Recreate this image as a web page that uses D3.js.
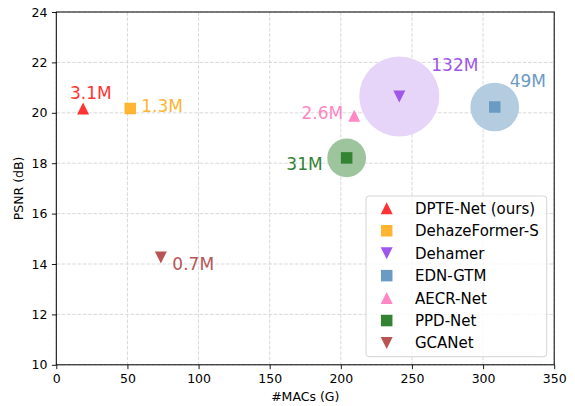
<!DOCTYPE html>
<html>
<head>
<meta charset="utf-8">
<script src="https://cdn.jsdelivr.net/npm/d3@7"></script>
<style>
  html, body { margin: 0; padding: 0; background: #fff; }
  svg { display: block; font-family: "DejaVu Sans", sans-serif; }
</style>
</head>
<body>
<svg id="chart" width="575" height="406"></svg>
<script>
// Dehazing models: compute cost vs. quality, bubble area = parameter count
const models = ["DPTE-Net (ours)", "DehazeFormer-S", "Dehamer", "EDN-GTM", "AECR-Net", "PPD-Net", "GCANet"];
const macs   = [18.8, 52.0, 241.1, 308.2, 209.4, 204.1, 73.5];     // #MACs (G)
const psnr   = [20.17, 20.17, 20.65, 20.23, 19.88, 18.21, 14.26]; // PSNR (dB)
const params = [3.1, 1.3, 132, 49, 2.6, 31, 0.7];                 // parameters (M)

const xTicks = [0, 50, 100, 150, 200, 250, 300, 350];
const yTicks = [10, 12, 14, 16, 18, 20, 22, 24];

// Styling per model
const shapes      = ["up", "square", "down", "square", "up", "square", "down"];
const colors      = ["#ff3333", "#ffb531", "#a056e8", "#6b9bc3", "#ff87c3", "#338333", "#b75555"];
const bubbleFills = ["#ff3333", "#ffb531", "#e6d5f8", "#b4cce0", "#ff87c3", "#9dc49d", "#b75555"];
// label offsets from the marker centre: [dx, dy, anchor]
const labelPos = [[-13, -10, "start"], [11, 3, "start"], [32, -25, "start"], [15, -20, "start"],
                  [-11, 3, "end"], [-24, 12.5, "end"], [11.5, 12.5, "start"]];

const svg = d3.select("#chart");
const m = { left: 56.3, right: 554.2, top: 12, bottom: 364.8 };

const x = d3.scaleLinear().domain([0, 350]).range([m.left, m.right]);
const y = d3.scaleLinear().domain([10, 24]).range([m.bottom, m.top]);
const r = d3.scaleSqrt().domain([0, 132]).range([0, 40]);

// grid
const grid = svg.append("g");
grid.selectAll(".gx").data(xTicks).join("line")
  .attr("x1", d => x(d)).attr("x2", d => x(d))
  .attr("y1", m.top).attr("y2", m.bottom)
  .attr("stroke", "#cfcfcf").attr("stroke-width", 0.8).attr("stroke-dasharray", "3.7,1.6");
grid.selectAll(".gy").data(yTicks).join("line")
  .attr("y1", d => y(d)).attr("y2", d => y(d))
  .attr("x1", m.left).attr("x2", m.right)
  .attr("stroke", "#cfcfcf").attr("stroke-width", 0.8).attr("stroke-dasharray", "3.7,1.6");

const idx = d3.range(models.length);

// parameter bubbles (tiny ones are hidden under their markers)
svg.append("g").selectAll("circle")
  .data(idx.filter(i => params[i] >= 10)).join("circle")
  .attr("cx", i => x(macs[i])).attr("cy", i => y(psnr[i]))
  .attr("r", i => r(params[i]))
  .attr("fill", i => bubbleFills[i]);

function markerPath(shape, s) {
  const h = s / 2;
  if (shape === "up")   return `M0,${-h}L${h},${h}L${-h},${h}Z`;
  if (shape === "down") return `M0,${h}L${h},${-h}L${-h},${-h}Z`;
  const q = h * 0.96;
  return `M${-q},${-q}H${q}V${q}H${-q}Z`;
}

// markers
svg.append("g").selectAll("path")
  .data(idx).join("path")
  .attr("transform", i => `translate(${x(macs[i])},${y(psnr[i])})`)
  .attr("d", i => markerPath(shapes[i], 12))
  .attr("fill", i => colors[i]);

// parameter labels
svg.append("g").selectAll("text")
  .data(idx).join("text")
  .attr("x", i => x(macs[i]) + labelPos[i][0])
  .attr("y", i => y(psnr[i]) + labelPos[i][1])
  .attr("text-anchor", i => labelPos[i][2])
  .attr("font-size", 17)
  .attr("fill", i => colors[i])
  .text(i => params[i] + "M");

// axes
const xAxis = svg.append("g").attr("transform", `translate(0,${m.bottom})`)
  .call(d3.axisBottom(x).tickValues(xTicks).tickSize(4.4).tickPadding(4.5).tickFormat(d3.format("d")));
const yAxis = svg.append("g").attr("transform", `translate(${m.left},0)`)
  .call(d3.axisLeft(y).tickValues(yTicks).tickSize(4.4).tickPadding(4.5).tickFormat(d3.format("d")));
[xAxis, yAxis].forEach(a => {
  a.select(".domain").remove();
  a.selectAll("text").attr("font-size", 12.5).attr("fill", "#000").attr("font-family", "DejaVu Sans");
  a.selectAll("line").attr("stroke", "#000").attr("stroke-width", 0.9);
});

// frame
svg.append("rect")
  .attr("x", m.left).attr("y", m.top)
  .attr("width", m.right - m.left).attr("height", m.bottom - m.top)
  .attr("fill", "none").attr("stroke", "#000").attr("stroke-width", 1);

// axis titles
svg.append("text").attr("x", (m.left + m.right) / 2).attr("y", 401)
  .attr("text-anchor", "middle").attr("font-size", 12.5).text("#MACs (G)");
svg.append("text")
  .attr("transform", `translate(23,${(m.top + m.bottom) / 2}) rotate(-90)`)
  .attr("text-anchor", "middle").attr("font-size", 12.5).text("PSNR (dB)");

// legend
const lg = svg.append("g").attr("transform", "translate(366,196)");
lg.append("rect").attr("width", 180.7).attr("height", 160.7).attr("rx", 3)
  .attr("fill", "#fff").attr("fill-opacity", 0.8)
  .attr("stroke", "#d0d0d0").attr("stroke-width", 0.9);
const rows = lg.selectAll("g.row").data(idx).join("g")
  .attr("transform", i => `translate(0,${12.3 + i * 22.45})`);
rows.append("path")
  .attr("transform", "translate(20.7,0)")
  .attr("d", i => markerPath(shapes[i], 12))
  .attr("fill", i => colors[i]);
rows.append("text")
  .attr("x", 49).attr("y", 0).attr("dy", "0.36em")
  .attr("font-size", 15).attr("fill", "#000")
  .text(i => models[i]);
</script>
</body>
</html>
